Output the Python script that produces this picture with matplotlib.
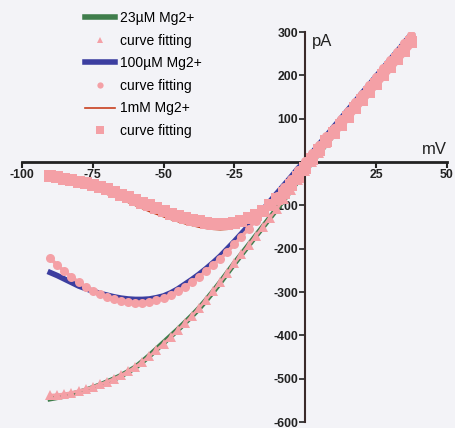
import matplotlib
matplotlib.use('Agg')
import matplotlib.pyplot as plt
from matplotlib.lines import Line2D

plt.rcParams['font.family'] = ['Liberation Sans', 'DejaVu Sans']

# holding potential (mV)
voltage = [-90, -87.5, -85, -82.5, -80, -77.5, -75, -72.5, -70, -67.5,
           -65, -62.5, -60, -57.5, -55, -52.5, -50, -47.5, -45, -42.5,
           -40, -37.5, -35, -32.5, -30, -27.5, -25, -22.5, -20, -17.5,
           -15, -12.5, -10, -7.5, -5, -2.5, 0, 2.5, 5, 7.5,
           10, 12.5, 15, 17.5, 20, 22.5, 25, 27.5, 30, 32.5,
           35, 37.5]

# current (pA), 23 uM Mg2+
i_23um = [-546, -543, -540, -536, -532, -527, -521, -515, -508, -501,
          -493, -484, -474, -461, -447, -432, -417, -402, -387, -371,
          -355, -338, -319, -299, -278, -256, -234, -213, -192, -171,
          -150, -129, -108, -86, -64, -42, -20, 1, 22, 43,
          64, 85, 106, 127, 148, 169, 190, 211, 232, 253,
          274, 295]
fit_23um = [-538, -537, -535, -532, -528, -524, -519, -513, -507, -500,
            -492, -483, -473, -461, -448, -434, -419, -404, -388, -372,
            -355, -337, -318, -298, -277, -256, -234, -213, -192, -171,
            -150, -129, -108, -86, -64, -42, -20, 1, 22, 43,
            64, 85, 106, 127, 148, 169, 190, 211, 232, 253,
            274, 295]

# 100 uM Mg2+
i_100um = [-255, -262, -270, -278, -286, -292, -298, -303, -307, -311,
           -314, -316, -317, -317, -316, -313, -309, -302, -293, -282,
           -271, -259, -246, -232, -217, -200, -183, -165, -147, -129,
           -110, -91, -72, -53, -34, -14, 3, 22, 42, 61,
           81, 100, 120, 139, 159, 178, 198, 217, 237, 256,
           276, 295]
fit_100um = [-222, -238, -252, -265, -277, -288, -297, -305, -312, -317,
             -321, -324, -325, -325, -323, -319, -314, -307, -298, -288,
             -277, -265, -252, -238, -223, -207, -190, -172, -154, -135,
             -116, -97, -78, -58, -38, -18, 2, 21, 40, 60,
             79, 99, 118, 138, 157, 177, 196, 216, 235, 255,
             274, 294]

# 1 mM Mg2+
i_1mm = [-35, -39, -43, -48, -53, -58, -63, -68, -74, -80,
         -86, -93, -100, -107, -114, -120, -126, -132, -137, -142,
         -146, -150, -153, -155, -156, -155, -152, -147, -140, -131,
         -120, -107, -92, -76, -58, -38, -16, 5, 26, 46,
         66, 85, 104, 123, 142, 161, 180, 199, 218, 237,
         256, 275]
fit_1mm = [-32, -35, -38, -42, -45, -49, -53, -58, -63, -69,
           -75, -81, -87, -94, -100, -107, -113, -119, -124, -129,
           -133, -137, -140, -142, -143, -142, -140, -136, -130, -122,
           -112, -100, -86, -71, -54, -35, -14, 7, 28, 48,
           67, 86, 105, 124, 143, 162, 181, 200, 219, 238,
           257, 276]

x_ticks = [-100, -75, -50, -25, 25, 50]
y_ticks = [-600, -500, -400, -300, -200, -100, 100, 200, 300]

bg = '#f3f3f7'
pink = '#f4a0a6'
green = '#3f7d4c'
blue = '#3c3ea0'
red = '#c8401e'

fig = plt.figure(figsize=(4.56, 4.28), dpi=100, facecolor=bg)
ax = fig.add_axes([0.048, 0.014, 0.932, 0.911])
ax.set_facecolor(bg)

ax.plot(voltage, i_23um, color=green, lw=4, zorder=2)
ax.plot(voltage, fit_23um, color=pink, lw=2, zorder=3)
ax.plot(voltage, fit_23um, ls='none', marker='^', ms=7, mew=0, color=pink, zorder=3)
ax.plot(voltage, i_100um, color=blue, lw=4, zorder=2)
ax.plot(voltage, fit_100um, color=pink, lw=2.5, zorder=3)
ax.plot(voltage, fit_100um, ls='none', marker='o', ms=6.5, mew=0, color=pink, zorder=3)
ax.plot(voltage, i_1mm, color=red, lw=1.3, zorder=2.5)
ax.plot(voltage, fit_1mm, color=pink, lw=6, solid_capstyle='butt', zorder=3)
ax.plot(voltage, fit_1mm, ls='none', marker='s', ms=8, mew=0, color=pink, zorder=3)

handles = [
    Line2D([], [], color=green, lw=4),
    Line2D([], [], ls='none', marker='^', ms=5, mew=0, color=pink),
    Line2D([], [], color=blue, lw=4),
    Line2D([], [], ls='none', marker='o', ms=4.5, mew=0, color=pink),
    Line2D([], [], color=red, lw=1.2),
    Line2D([], [], ls='none', marker='s', ms=6, mew=0, color=pink),
]
labels = ['23\u00b5M Mg2+', 'curve fitting', '100\u00b5M Mg2+', 'curve fitting',
          '1mM Mg2+', 'curve fitting']
ax.legend(handles, labels, loc='upper left', bbox_to_anchor=(85 / 456, 1 - 11 / 428),
          bbox_transform=fig.transFigure, frameon=False, fontsize=10,
          handlelength=2.15, handletextpad=0.4, labelspacing=0.62,
          borderpad=0, borderaxespad=0, numpoints=1)

ax.set_xlim(-100, 50)
ax.set_ylim(-600, 300)
ax.spines['left'].set_position(('data', 0))
ax.spines['bottom'].set_position(('data', 0))
ax.spines['right'].set_visible(False)
ax.spines['top'].set_visible(False)
ax.spines['bottom'].set_linewidth(2)
ax.spines['bottom'].set_color('#222222')
ax.spines['left'].set_linewidth(1.5)
ax.spines['left'].set_color('#3a2a2a')

ax.set_xticks(x_ticks)
ax.set_xticklabels([str(t) for t in x_ticks])
ax.set_yticks(y_ticks)
ax.set_yticklabels([str(t) for t in y_ticks])
ax.tick_params(axis='x', direction='out', length=4, width=1.5, pad=1,
               labelsize=8.8, colors='#222222')
ax.tick_params(axis='y', direction='out', length=4, width=1.2, pad=1,
               labelsize=8.8, colors='#222222')
for lab in ax.get_xticklabels() + ax.get_yticklabels():
    lab.set_fontweight('bold')

ax.text(2.5, 278, 'pA', fontsize=12, va='center', ha='left', color='#222222')
ax.text(50, 12, 'mV', fontsize=12, va='bottom', ha='right', color='#222222')

fig.savefig('out.png', dpi=100, facecolor=bg)
